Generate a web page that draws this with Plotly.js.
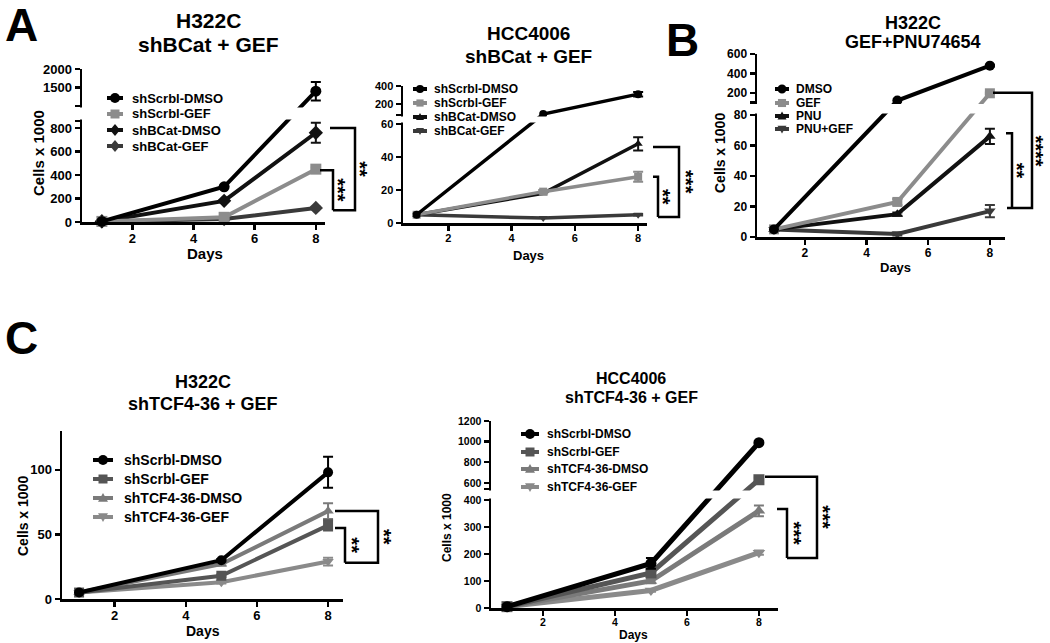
<!DOCTYPE html>
<html>
<head>
<meta charset="utf-8">
<script src="https://cdn.plot.ly/plotly-3.0.1.min.js"></script>
<style>html,body{margin:0;padding:0;background:#fff}#chart{width:1050px;height:643px}</style>
</head>
<body>
<div id="chart"></div>
<script>
// ---------------- DATA ----------------
const days = [1, 5, 8];
const xTicks = [2, 4, 6, 8];

// A (left) – H322C shBCat + GEF
const a1Names = ['shScrbl-DMSO', 'shScrbl-GEF', 'shBCat-DMSO', 'shBCat-GEF'];
const a1ScrblDMSO = [5, 300, 1400];
const a1ScrblGEF = [5, 40, 450];
const a1BCatDMSO = [5, 180, 760];
const a1BCatGEF = [5, 25, 120];
const a1ScrblDMSOErr = [0, 0, 250];
const a1ScrblGEFErr = [0, 0, 15];
const a1BCatDMSOErr = [0, 0, 85];
const a1BCatGEFErr = [0, 0, 10];
const a1TicksLow = [0, 200, 400, 600, 800];
const a1TicksUp = [1500, 2000];

// A (right) – HCC4006 shBCat + GEF
const a2Names = ['shScrbl-DMSO', 'shScrbl-GEF', 'shBCat-DMSO', 'shBCat-GEF'];
const a2ScrblDMSO = [5, 90, 310];
const a2ScrblGEF = [5, 19, 28];
const a2BCatDMSO = [5, 18, 48];
const a2BCatGEF = [5, 3, 5];
const a2ScrblDMSOErr = [0, 0, 25];
const a2ScrblGEFErr = [0, 1, 3];
const a2BCatDMSOErr = [0, 0, 4];
const a2BCatGEFErr = [0, 0, 0.5];
const a2TicksLow = [0, 20, 40, 60];
const a2TicksUp = [200, 400];

// B – H322C GEF+PNU74654
const bNames = ['DMSO', 'GEF', 'PNU', 'PNU+GEF'];
const bDMSO = [5, 120, 480];
const bGEF = [5, 23, 195];
const bPNU = [5, 15, 66];
const bPNUGEF = [5, 2, 17];
const bDMSOErr = [0, 0, 10];
const bGEFErr = [0, 2, 8];
const bPNUErr = [0, 1, 5];
const bPNUGEFErr = [0, 1, 4];
const bTicksLow = [0, 20, 40, 60, 80];
const bTicksUp = [200, 400, 600];

// C (left) – H322C shTCF4-36 + GEF
const c1Names = ['shScrbl-DMSO', 'shScrbl-GEF', 'shTCF4-36-DMSO', 'shTCF4-36-GEF'];
const c1ScrblDMSO = [5, 30, 98];
const c1ScrblGEF = [5, 18, 57];
const c1TCFDMSO = [5, 27, 68];
const c1TCFGEF = [5, 13, 29];
const c1ScrblDMSOErr = [0, 1, 12];
const c1ScrblGEFErr = [0, 1, 4];
const c1TCFDMSOErr = [0, 1, 6];
const c1TCFGEFErr = [0, 1, 3];
const c1TicksLow = [0, 50, 100];

// C (right) – HCC4006 shTCF4-36 + GEF
const c2Names = ['shScrbl-DMSO', 'shScrbl-GEF', 'shTCF4-36-DMSO', 'shTCF4-36-GEF'];
const c2ScrblDMSO = [5, 165, 990];
const c2ScrblGEF = [5, 130, 630];
const c2TCFDMSO = [5, 100, 360];
const c2TCFGEF = [5, 65, 205];
const c2ScrblDMSOErr = [0, 20, 10];
const c2ScrblGEFErr = [0, 10, 20];
const c2TCFDMSOErr = [0, 8, 20];
const c2TCFGEFErr = [0, 5, 8];
const c2TicksLow = [0, 100, 200, 300, 400];
const c2TicksUp = [600, 800, 1000, 1200];

// significance brackets: [top value, bottom value]
const a1Brackets = [[800, 100], [440, 100]];
const a2Brackets = [[46, 3.6], [28, 3.6]];
const bBrackets = [[200, 19], [68, 19]];
const c1Brackets = [[68, 28], [55, 28]];
const c2Brackets = [[660, 185], [367, 185]];

// ---------------- LAYOUT HELPERS ----------------
const W = 1050, H = 643;
const FONT = 'Liberation Sans, Arial, Helvetica, sans-serif';
const px = x => x / W;
const py = y => 1 - y / H;

function setupPanel(c) {
  const u = c.lo / (c.zeroPx - c.loTopPx);
  c.u = u;
  c.T = v => {
    if (!c.hi1 || v <= c.lo) return v;
    const gapU = (c.loTopPx - c.upBotPx) * u;
    if (v < c.hi0) return c.lo + (v - c.lo) / (c.hi0 - c.lo) * gapU;
    return c.lo + gapU + (v - c.hi0) / (c.hi1 - c.hi0) * (c.upBotPx - c.upTopPx) * u;
  };
  c.top = c.hi1 ? c.T(c.hi1) : c.lo;
  c.topPx = c.hi1 ? c.upTopPx : c.loTopPx;
  c.yPx = v => c.zeroPx - c.T(v) / u;
  return c;
}

const panels = [
  setupPanel({id: 1, xPx: [82, 325], xRange: [0.35, 8.3], zeroPx: 222, lo: 860, loTopPx: 121, hi0: 1000, upBotPx: 106, hi1: 2000, upTopPx: 69,
    ticksLow: a1TicksLow, ticksUp: a1TicksUp, tickSize: 13, lw: 4, ms: 11,
    names: a1Names, ys: [a1ScrblDMSO, a1ScrblGEF, a1BCatDMSO, a1BCatGEF], errs: [a1ScrblDMSOErr, a1ScrblGEFErr, a1BCatDMSOErr, a1BCatGEFErr],
    colors: ['#000000', '#8c8c8c', '#111111', '#3a3a3a'], symbols: ['circle', 'square', 'diamond', 'diamond'],
    legend: {ys: [98, 114, 130, 146], sx: 115, half: 8, tx: 130, size: 13, r: 5},
    title: ['H322C', 'shBCat + GEF'], titleX: 208, titleY: [21, 44], titleSize: 21,
    days: {x: 205, y: 254, size: 15}, ytitle: {x: 38, y: 153, size: 15},
    brackets: a1Brackets, br: [{x0: 330, xV: 355, xB: 333, text: '**', tx: 360}, {x0: 320, xV: 333, text: '***', tx: 338}]}),
  setupPanel({id: 2, xPx: [403, 647], xRange: [0.57, 8.28], zeroPx: 223, lo: 60, loTopPx: 124, hi0: 80, upBotPx: 115, hi1: 400, upTopPx: 86,
    ticksLow: a2TicksLow, ticksUp: a2TicksUp, tickSize: 11, lw: 3.5, ms: 8,
    names: a2Names, ys: [a2ScrblDMSO, a2ScrblGEF, a2BCatDMSO, a2BCatGEF], errs: [a2ScrblDMSOErr, a2ScrblGEFErr, a2BCatDMSOErr, a2BCatGEFErr],
    colors: ['#000000', '#8c8c8c', '#111111', '#3a3a3a'], symbols: ['circle', 'square', 'triangle-up', 'triangle-down'],
    legend: {ys: [89, 103, 117, 131], sx: 420, half: 7, tx: 432, size: 12, r: 4},
    title: ['HCC4006', 'shBCat + GEF'], titleX: 528, titleY: [34, 57], titleSize: 19,
    days: {x: 528, y: 255, size: 13}, ytitle: null,
    brackets: a2Brackets, br: [{x0: 653, xV: 679, xB: 658, text: '***', tx: 686}, {x0: 653, xV: 658, text: '**', tx: 663}]}),
  setupPanel({id: 3, xPx: [757, 1005], xRange: [0.45, 8.49], zeroPx: 237, lo: 80, loTopPx: 115, hi0: 100, upBotPx: 102.5, hi1: 600, upTopPx: 54,
    ticksLow: bTicksLow, ticksUp: bTicksUp, tickSize: 12, lw: 4, ms: 10,
    names: bNames, ys: [bDMSO, bGEF, bPNU, bPNUGEF], errs: [bDMSOErr, bGEFErr, bPNUErr, bPNUGEFErr],
    colors: ['#000000', '#8c8c8c', '#111111', '#3a3a3a'], symbols: ['circle', 'square', 'triangle-up', 'triangle-down'],
    legend: {ys: [89, 103, 116, 129], sx: 782, half: 7, tx: 794, size: 12, r: 4.5},
    title: ['H322C', 'GEF+PNU74654'], titleX: 913, titleY: [23, 42], titleSize: 18,
    days: {x: 895, y: 267, size: 13}, ytitle: {x: 720, y: 153, size: 14},
    brackets: bBrackets, br: [{x0: 993, xV: 1032, xB: 1007, text: '****', tx: 1036}, {x0: 1006, xV: 1012, text: '**', tx: 1017}]}),
  setupPanel({id: 4, xPx: [62, 343], xRange: [0.52, 8.42], zeroPx: 599, lo: 130, loTopPx: 431,
    ticksLow: c1TicksLow, ticksUp: [], tickSize: 13, lw: 4, ms: 10,
    names: c1Names, ys: [c1ScrblDMSO, c1ScrblGEF, c1TCFDMSO, c1TCFGEF], errs: [c1ScrblDMSOErr, c1ScrblGEFErr, c1TCFDMSOErr, c1TCFGEFErr],
    colors: ['#000000', '#555555', '#7a7a7a', '#8a8a8a'], symbols: ['circle', 'square', 'triangle-up', 'triangle-down'],
    legend: {ys: [460, 479, 498, 517], sx: 103, half: 10, tx: 122, size: 14, r: 5},
    title: ['H322C', 'shTCF4-36 + GEF'], titleX: 203, titleY: [382, 404], titleSize: 18,
    days: {x: 203, y: 631, size: 14}, ytitle: {x: 23, y: 516, size: 14},
    brackets: c1Brackets, br: [{x0: 335, xV: 378, xB: 345, text: '**', tx: 384}, {x0: 335, xV: 345, text: '**', tx: 352}]}),
  setupPanel({id: 5, xPx: [491, 778], xRange: [0.556, 8.53], zeroPx: 608, lo: 400, loTopPx: 500, hi0: 540, upBotPx: 489, hi1: 1200, upTopPx: 421,
    ticksLow: c2TicksLow, ticksUp: c2TicksUp, tickSize: 10.5, lw: 5, ms: 11,
    names: c2Names, ys: [c2ScrblDMSO, c2ScrblGEF, c2TCFDMSO, c2TCFGEF], errs: [c2ScrblDMSOErr, c2ScrblGEFErr, c2TCFDMSOErr, c2TCFGEFErr],
    colors: ['#000000', '#555555', '#7a7a7a', '#8a8a8a'], symbols: ['circle', 'square', 'triangle-up', 'triangle-down'],
    legend: {ys: [434, 452, 469, 487], sx: 530, half: 9, tx: 545, size: 12, r: 5},
    title: ['HCC4006', 'shTCF4-36 + GEF'], titleX: 631, titleY: [378, 397], titleSize: 16,
    days: {x: 633, y: 635, size: 12}, ytitle: {x: 447, y: 528, size: 12},
    brackets: c2Brackets, br: [{x0: 765, xV: 817, xB: 787, text: '***', tx: 823}, {x0: 777, xV: 787, text: '***', tx: 794}]})
];

// ---------------- BUILD ----------------
const traces = [];
const layout = {
  width: W, height: H, margin: {l: 0, r: 0, t: 0, b: 0},
  paper_bgcolor: '#ffffff', plot_bgcolor: 'rgba(0,0,0,0)',
  showlegend: false, font: {family: FONT, color: '#000'},
  shapes: [], annotations: []
};

function txt(x, y, text, size, opts) {
  return Object.assign({xref: 'paper', yref: 'paper', x: px(x), y: py(y), text: text, showarrow: false,
    xanchor: 'center', yanchor: 'middle', font: {family: FONT, size: size, color: '#000', weight: 'bold'}}, opts || {});
}

function symShape(sym, cx, cy, r, color) {
  const base = {xref: 'paper', yref: 'paper', fillcolor: color, line: {width: 0}, layer: 'above'};
  const P = (x, y) => px(x) + ',' + py(y);
  if (sym === 'circle') return Object.assign(base, {type: 'circle', x0: px(cx - r), x1: px(cx + r), y0: py(cy + r), y1: py(cy - r)});
  if (sym === 'square') return Object.assign(base, {type: 'rect', x0: px(cx - r * 0.9), x1: px(cx + r * 0.9), y0: py(cy + r * 0.9), y1: py(cy - r * 0.9)});
  let path;
  if (sym === 'triangle-up') path = `M${P(cx, cy - r)} L${P(cx + r, cy + r * 0.75)} L${P(cx - r, cy + r * 0.75)} Z`;
  else if (sym === 'triangle-down') path = `M${P(cx, cy + r)} L${P(cx + r, cy - r * 0.75)} L${P(cx - r, cy - r * 0.75)} Z`;
  else path = `M${P(cx, cy - r * 1.2)} L${P(cx + r, cy)} L${P(cx, cy + r * 1.2)} L${P(cx - r, cy)} Z`;
  return Object.assign(base, {type: 'path', path: path});
}

panels.forEach(c => {
  const n = c.id, sfx = n === 1 ? '' : String(n);
  const xa = 'x' + sfx, ya = 'y' + sfx;
  const tickFont = {family: FONT, size: c.tickSize, color: '#000', weight: 'bold'};
  let yvals = [], ytext = [];
  c.ticksLow.forEach(v => { yvals.push(c.T(v)); ytext.push(String(v)); });
  if (c.hi1) {
    yvals.push(c.T(c.lo)); ytext.push('');
    yvals.push(c.T(c.hi0)); ytext.push('');
    c.ticksUp.forEach(v => { yvals.push(c.T(v)); ytext.push(String(v)); });
  }
  layout['xaxis' + sfx] = {
    domain: [px(c.xPx[0]), px(c.xPx[1])], range: c.xRange, anchor: ya,
    showline: true, linecolor: '#000', linewidth: 2.5, ticks: 'outside', ticklen: 5, tickwidth: 2.5, tickcolor: '#000',
    tickmode: 'array', tickvals: xTicks, ticktext: xTicks.map(String), tickfont: tickFont, ticklabelstandoff: -2,
    showgrid: false, zeroline: false, fixedrange: true
  };
  layout['yaxis' + sfx] = {
    domain: [py(c.zeroPx), py(c.topPx)], range: [0, c.top * 1.00001], anchor: xa,
    showline: true, linecolor: '#000', linewidth: 2.5, ticks: 'outside', ticklen: 5, tickwidth: 2.5, tickcolor: '#000',
    tickmode: 'array', tickvals: yvals, ticktext: ytext, tickfont: tickFont,
    showgrid: false, zeroline: false, fixedrange: true
  };
  for (let i = c.names.length - 1; i >= 0; i--) {
    const vals = c.ys[i], err = c.errs[i];
    traces.push({
      type: 'scatter', mode: 'lines+markers', name: c.names[i], xaxis: xa, yaxis: ya,
      x: days, y: vals.map(c.T), cliponaxis: false,
      line: {color: c.colors[i], width: c.lw},
      marker: {symbol: c.symbols[i], size: c.ms, color: c.colors[i]},
      error_y: {type: 'data', symmetric: false, thickness: 2, width: 5, color: c.colors[i],
        array: vals.map((v, k) => err[k] ? c.T(v + err[k]) - c.T(v) : NaN),
        arrayminus: vals.map((v, k) => err[k] ? c.T(v) - c.T(v - err[k]) : NaN)},
      hoverinfo: 'x+name'
    });
  }
  if (c.hi1) {
    layout.shapes.push({type: 'rect', xref: 'paper', yref: 'paper', layer: 'above',
      x0: px(c.xPx[0] - 4), x1: px(c.xPx[1] + 2), y0: py(c.loTopPx - 1.5), y1: py(c.upBotPx + 1.5),
      fillcolor: '#ffffff', line: {width: 0}});
  }
  c.names.forEach((nm, i) => {
    const ly = c.legend.ys[i];
    layout.shapes.push({type: 'line', xref: 'paper', yref: 'paper', layer: 'above',
      x0: px(c.legend.sx - c.legend.half), x1: px(c.legend.sx + c.legend.half), y0: py(ly), y1: py(ly),
      line: {color: c.colors[i], width: 4}});
    layout.shapes.push(symShape(c.symbols[i], c.legend.sx, ly, c.legend.r, c.colors[i]));
    layout.annotations.push(txt(c.legend.tx, ly, nm, c.legend.size, {xanchor: 'left'}));
  });
  layout.annotations.push(txt(c.titleX, c.titleY[0], c.title[0], c.titleSize));
  layout.annotations.push(txt(c.titleX, c.titleY[1], c.title[1], c.titleSize));
  layout.annotations.push(txt(c.days.x, c.days.y, 'Days', c.days.size));
  if (c.ytitle) layout.annotations.push(txt(c.ytitle.x, c.ytitle.y, 'Cells x 1000', c.ytitle.size, {textangle: -90}));
  c.brackets.forEach((b, i) => {
    const g = c.br[i];
    const yt = c.yPx(b[0]), yb = c.yPx(b[1]);
    const P = (x, y) => px(x) + ',' + py(y);
    let path = `M${P(g.x0, yt)} L${P(g.xV, yt)} L${P(g.xV, yb)}`;
    if (g.xB !== undefined) path += ` L${P(g.xB, yb)}`;
    layout.shapes.push({type: 'path', xref: 'paper', yref: 'paper', layer: 'above', path: path,
      line: {color: '#000', width: 2.5}});
    layout.annotations.push(txt(g.tx, (yt + yb) / 2, g.text, 20, {textangle: 90}));
  });
});

layout.annotations.push(txt(21, 25, 'A', 46));
layout.annotations.push(txt(682, 40, 'B', 46));
layout.annotations.push(txt(21, 338, 'C', 46));

Plotly.newPlot('chart', traces, layout, {displayModeBar: false, staticPlot: true});
</script>
</body>
</html>
